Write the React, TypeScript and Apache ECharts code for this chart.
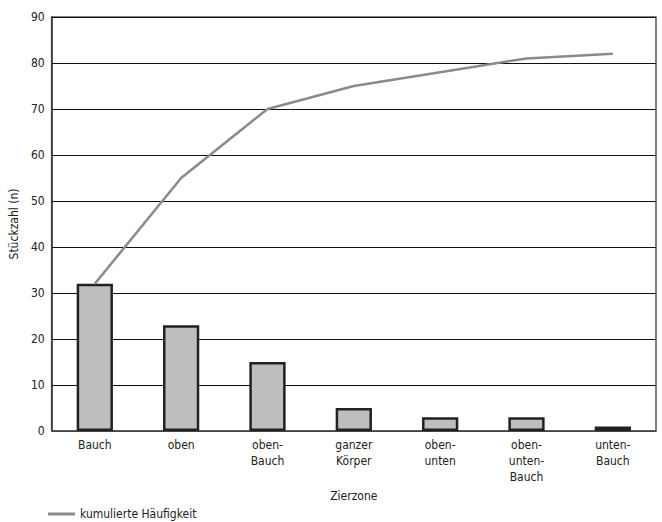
import React, { useEffect, useRef } from "react";
import * as echarts from "echarts";

const categories = ["Bauch", "oben", "oben-\nBauch", "ganzer\nKörper", "oben-\nunten", "oben-\nunten-\nBauch", "unten-\nBauch"];
const counts = [32, 23, 15, 5, 3, 3, 1];
const cumulative = [32, 55, 70, 75, 78, 81, 82];
const yTicks = { min: 0, max: 90, interval: 10 };

const FONT = "DejaVu Sans Condensed, DejaVu Sans";

export default function App() {
  const ref = useRef<HTMLDivElement>(null);
  useEffect(() => {
    const chart = echarts.init(ref.current!, null, { renderer: "svg" });
    chart.setOption({
      animation: false,
      textStyle: { fontFamily: FONT, color: "#222" },
      grid: { left: 49, top: 17, right: 6, bottom: 91, show: true, borderColor: "#555", borderWidth: 1.5, containLabel: false },
      legend: {
        left: 48,
        top: 507,
        padding: 0,
        itemWidth: 27,
        itemHeight: 3,
        itemGap: 8,
        data: [{ name: "kumulierte Häufigkeit", icon: "rect", itemStyle: { color: "#8a8a8a" } }],
        textStyle: { fontFamily: FONT, fontSize: 12, color: "#222", lineHeight: 14 },
      },
      xAxis: {
        type: "category",
        data: categories,
        name: "Zierzone",
        nameLocation: "middle",
        nameGap: 56,
        nameTextStyle: { fontFamily: FONT, fontSize: 12, color: "#222" },
        axisLine: { lineStyle: { color: "#555", width: 1.5 } },
        axisTick: { show: false },
        axisLabel: { fontFamily: FONT, fontSize: 12, color: "#222", lineHeight: 16, margin: 6, align: "center" },
      },
      yAxis: {
        type: "value",
        min: yTicks.min,
        max: yTicks.max,
        interval: yTicks.interval,
        name: "Stückzahl (n)",
        nameLocation: "middle",
        nameGap: 24,
        nameTextStyle: { fontFamily: FONT, fontSize: 12, color: "#222" },
        axisLine: { show: true, lineStyle: { color: "#333", width: 1.5 } },
        axisTick: { show: false },
        axisLabel: { fontFamily: FONT, fontSize: 12, color: "#222", margin: 7 },
        splitLine: { lineStyle: { color: "#111", width: 1 } },
      },
      series: [
        {
          type: "bar",
          data: counts,
          barWidth: "42%",
          itemStyle: { color: "#bebec0", borderColor: "#222", borderWidth: 2.5 },
          z: 2,
        },
        {
          name: "kumulierte Häufigkeit",
          type: "line",
          data: cumulative,
          symbol: "none",
          lineStyle: { color: "#8a8a8a", width: 2.5 },
          itemStyle: { color: "#8a8a8a" },
          z: 3,
        },
      ],
    });
    return () => chart.dispose();
  }, []);
  return <div ref={ref} style={{ width: 662, height: 522, position: "absolute", left: 0, top: 0 }} />;
}
